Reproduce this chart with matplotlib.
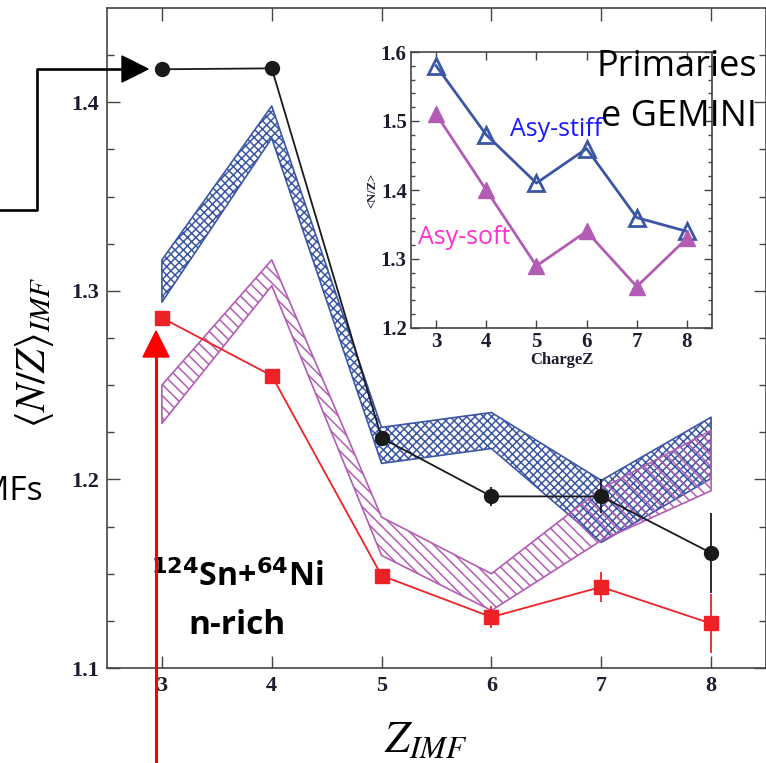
import numpy as np
import matplotlib
matplotlib.use('Agg')
import matplotlib.pyplot as plt
from matplotlib.patches import Polygon
from matplotlib.lines import Line2D

plt.rcParams['mathtext.fontset'] = 'stix'
plt.rcParams['hatch.linewidth'] = 1.1

# данные основного графика
z = [3, 4, 5, 6, 7, 8]
# эксперимент (Primaries) - черные точки
nz_black = [1.4175, 1.418, 1.222, 1.191, 1.191, 1.161]
err_black = [0.001, 0.001, 0.001, 0.005, 0.009, 0.021]
# красные квадраты
nz_red = [1.2857, 1.255, 1.149, 1.127, 1.143, 1.1236]
err_red = [0.002, 0.003, 0.002, 0.006, 0.008, 0.0155]
# полоса asy-stiff (синяя)
stiff_lo = [1.294, 1.381, 1.2085, 1.2164, 1.1666, 1.2005]
stiff_hi = [1.3164, 1.398, 1.2276, 1.2355, 1.1995, 1.233]
# полоса asy-soft (пурпурная)
soft_lo = [1.2297, 1.3027, 1.1597, 1.1305, 1.1676, 1.194]
soft_hi = [1.25, 1.3164, 1.18, 1.150, 1.195, 1.226]

# данные вставки
z_in = [3, 4, 5, 6, 7, 8]
nz_stiff = [1.58, 1.48, 1.41, 1.46, 1.36, 1.34]
nz_soft = [1.51, 1.40, 1.29, 1.34, 1.26, 1.33]

W, H = 766, 763
blue = '#3b56a5'
magenta = '#b35cb3'
red = '#ee2226'
tick_col = '#1c1c30'

fig = plt.figure(figsize=(W / 100, H / 100), dpi=100)
ax = fig.add_axes([107 / W, 95 / H, (W - 107) / W, 660 / H])

ax.fill_between(z, stiff_lo, stiff_hi, facecolor='none', edgecolor=blue,
                hatch='xxxx', linewidth=1.2, zorder=2)
ax.fill_between(z, soft_lo, soft_hi, facecolor='none', edgecolor=magenta,
                hatch='\\\\\\', linewidth=1.2, zorder=2)
ax.errorbar(z, nz_black, yerr=err_black, color='#1a1a1a', marker='o',
            markersize=10, linewidth=1.3, elinewidth=1.3, capsize=0, zorder=4)
ax.errorbar(z, nz_red, yerr=err_red, color=red, marker='s',
            markersize=10, linewidth=1.3, elinewidth=1.3, capsize=0, zorder=4)

ax.set_xlim(2.5, 8.5)
ax.set_ylim(1.1, 1.45)
ax.set_xticks(z)
ax.set_yticks([1.1, 1.2, 1.3, 1.4])
ax.set_yticks(np.arange(1.1, 1.45, 0.025), minor=True)
ax.tick_params(direction='in', top=True, right=True, length=9, width=1,
               color='#444444', labelsize=16, labelcolor=tick_col, pad=6)
ax.tick_params(axis='y', which='minor', direction='in', right=True, length=5,
               width=1, color='#444444')
for lab in ax.get_xticklabels() + ax.get_yticklabels():
    lab.set_fontfamily('Liberation Serif')
    lab.set_fontweight('bold')
for sp in ax.spines.values():
    sp.set_color('#444444')
    sp.set_linewidth(1.2)


# текст в пикселях фигуры
def ftext(x, y, s, **kw):
    fig.text(x / W, 1 - y / H, s, **kw)


ftext(237, 578, r'$^{\mathbf{124}}$Sn+$^{\mathbf{64}}$Ni', ha='center',
      va='center', fontsize=23, fontweight='bold', family='Open Sans',
      math_fontfamily='dejavusans')
ftext(237, 625, 'n-rich', ha='center', va='center', fontsize=24,
      fontweight='bold', family='Open Sans')

# вставка
ins = fig.add_axes([411 / W, (H - 328) / H, 301 / W, 276 / H])
ins.plot(z_in, nz_stiff, color=blue, marker='^', markersize=11,
         markerfacecolor='none', markeredgewidth=2, linewidth=2)
ins.plot(z_in, nz_soft, color=magenta, marker='^', markersize=11,
         markeredgewidth=1, linewidth=2)
ins.set_xlim(2.5, 8.5)
ins.set_ylim(1.2, 1.6)
ins.set_xticks(z_in)
ins.set_yticks([1.2, 1.3, 1.4, 1.5, 1.6])
ins.set_yticks(np.arange(1.2, 1.6, 0.02), minor=True)
ins.tick_params(direction='in', top=True, right=True, length=6, width=1,
                color='#444444', labelsize=15, labelcolor=tick_col, pad=3)
ins.tick_params(axis='y', which='minor', direction='in', right=True,
                length=3, width=1, color='#444444')
for lab in ins.get_xticklabels() + ins.get_yticklabels():
    lab.set_fontfamily('Liberation Serif')
    lab.set_fontweight('bold')
for sp in ins.spines.values():
    sp.set_color('#444444')
    sp.set_linewidth(1.2)
ins.set_xlabel('ChargeZ', fontsize=12, fontweight='bold',
               family='Liberation Serif', color=tick_col, labelpad=0)
ins.set_ylabel('<N/Z>', fontsize=9, fontweight='bold',
               family='Liberation Serif', color=tick_col, labelpad=2)

ftext(556, 130, 'Asy-stiff', ha='center', va='center', fontsize=18,
      color='#1a1aff', family='Open Sans')
ftext(464, 238, 'Asy-soft', ha='center', va='center', fontsize=18,
      color='#ff33cc', family='Open Sans')
ftext(757, 67, 'Primaries', ha='right', va='center', fontsize=26,
      family='Open Sans')
ftext(757, 117, 'e GEMINI', ha='right', va='center', fontsize=26,
      family='Open Sans')

# подписи осей
ftext(426, 740, r'$Z_{IMF}$', ha='center', va='center', fontsize=32)
ftext(34, 352, r'$\langle N/Z\rangle_{IMF}$', ha='center', va='center',
      fontsize=30, rotation=90)
ftext(43, 492, 'IMFs', ha='right', va='center', fontsize=24,
      family='Open Sans')

# стрелки поверх всего
ov = fig.add_axes([0, 0, 1, 1], zorder=10)
ov.set_xlim(0, W)
ov.set_ylim(H, 0)
ov.axis('off')
ov.add_line(Line2D([0, 37, 37, 125], [210, 210, 69, 69], color='black',
                   linewidth=1.9))
ov.add_patch(Polygon([[122, 56], [148, 69], [122, 82]], closed=True,
                     color='black'))
ov.add_line(Line2D([156, 156], [H, 352], color='#ff0000', linewidth=2.2))
ov.add_patch(Polygon([[143, 357], [156, 331], [169, 357]], closed=True,
                     color='#ff0000'))

fig.savefig('out.png', dpi=100)
